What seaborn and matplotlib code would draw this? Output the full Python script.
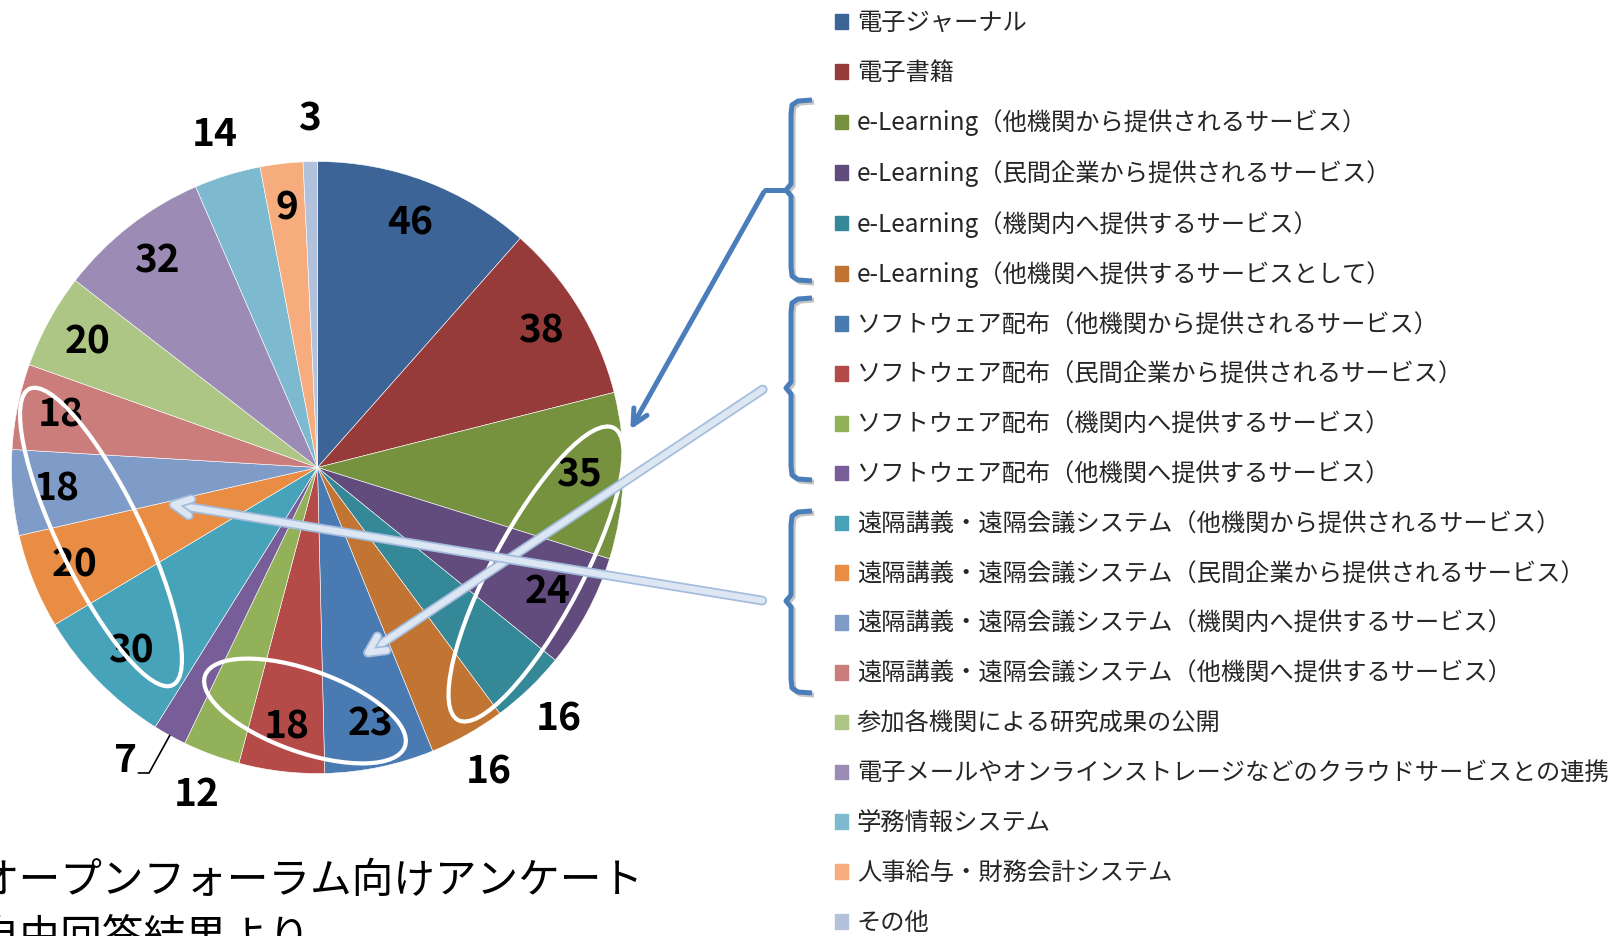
import numpy as np
import seaborn as sns
import matplotlib.pyplot as plt
from matplotlib.patches import Ellipse, Rectangle
import matplotlib.patheffects as pe

# データ: 各サービスの回答数（時計回り、上から）
labels = [
    "電子ジャーナル",
    "電子書籍",
    "e-Learning（他機関から提供されるサービス）",
    "e-Learning（民間企業から提供されるサービス）",
    "e-Learning（機関内へ提供するサービス）",
    "e-Learning（他機関へ提供するサービスとして）",
    "ソフトウェア配布（他機関から提供されるサービス）",
    "ソフトウェア配布（民間企業から提供されるサービス）",
    "ソフトウェア配布（機関内へ提供するサービス）",
    "ソフトウェア配布（他機関へ提供するサービス）",
    "遠隔講義・遠隔会議システム（他機関から提供されるサービス）",
    "遠隔講義・遠隔会議システム（民間企業から提供されるサービス）",
    "遠隔講義・遠隔会議システム（機関内へ提供するサービス）",
    "遠隔講義・遠隔会議システム（他機関へ提供するサービス）",
    "参加各機関による研究成果の公開",
    "電子メールやオンラインストレージなどのクラウドサービスとの連携",
    "学務情報システム",
    "人事給与・財務会計システム",
    "その他",
]
values = [46, 38, 35, 24, 16, 16, 23, 18, 12, 7, 30, 20, 18, 18, 20, 32, 14, 9, 3]
colors = [
    "#3C6496", "#963A3A", "#77923F", "#624C7E", "#358897", "#C27433",
    "#4A7AB2", "#B54B48", "#93B158", "#785E98", "#47A3BA", "#E88D43",
    "#7F9BC8", "#CB7D7B", "#AEC685", "#9C8BB4", "#7DBAD0", "#F6AC7C",
    "#B3C2DC",
]
# ラベルを円の外に出すスライス
outside = [4, 5, 8, 9, 16, 18]

footer = ["オープンフォーラム向けアンケート", "自由回答結果より"]

sns.set_theme(style="white")
plt.rcParams["font.family"] = ["Noto Sans CJK JP", "DejaVu Sans"]

W, H = 1611, 936
fig = plt.figure(figsize=(W / 100, H / 100), dpi=100)
fig.patch.set_facecolor("white")

# 円グラフ
cx, cy, r = 317.5, 467.5, 306
ax = fig.add_axes([(cx - r) / W, (H - cy - r) / H, 2 * r / W, 2 * r / H])
palette = sns.color_palette(colors)
wedges, _ = ax.pie(values, colors=palette, startangle=90, counterclock=False,
                   radius=1, wedgeprops=dict(edgecolor="white", linewidth=0.4))
ax.set_xlim(-1, 1)
ax.set_ylim(-1, 1)

total = sum(values)
cum = np.cumsum([0] + values[:-1])
for i, v in enumerate(values):
    mid = (cum[i] + v / 2) / total * 2 * np.pi
    d = np.array([np.sin(mid), np.cos(mid)])
    if i == 9:
        # 引き出し線付き
        p0, p1 = 1.0 * d, 1.14 * d
        p2 = p1 + np.array([-0.035, 0])
        ax.plot([p0[0], p1[0], p2[0]], [p0[1], p1[1], p2[1]], color="black",
                lw=1.2, clip_on=False)
        pos = p1 + np.array([-0.078, 0.042])
    elif i in outside:
        pos = 1.14 * d
    else:
        pos = 0.855 * d
    ax.text(pos[0], pos[1], str(v), ha="center", va="center", fontsize=28,
            fontweight="bold", color="black", clip_on=False)

# 凡例
handles = [Rectangle((0, 0), 1, 1, color=c) for c in palette]
fig.legend(handles, labels, loc="upper left", bbox_to_anchor=(835 / W, 1 - 10 / H),
           frameon=False, fontsize=17.5, handlelength=0.55, handleheight=0.55,
           handletextpad=0.35, labelspacing=0.98, borderpad=0, borderaxespad=0)

# 注釈レイヤー（ピクセル座標）
ax2 = fig.add_axes([0, 0, 1, 1])
ax2.set_xlim(0, W)
ax2.set_ylim(H, 0)
ax2.axis("off")
ax2.patch.set_alpha(0)

blue = "#4A7EBB"
braces = [(100, 281, 190), (298, 480, 388), (511, 693, 601)]
for y0, y1, ym in braces:
    xs = [812, 798, 792, 791, 791, 786, 791, 791, 792, 798, 812]
    ys = [y0, y0 + 1, y0 + 5, y0 + 14, ym - 6, ym, ym + 6, y1 - 14, y1 - 5, y1 - 1, y1]
    ax2.plot(xs, ys, color=blue, lw=3.6, solid_capstyle="butt",
             path_effects=[pe.SimpleLineShadow(offset=(1.5, -1.5), alpha=0.25), pe.Normal()])

# 青い矢印
ax2.plot([786, 765], [190, 190], color=blue, lw=3.6)
ax2.annotate("", xy=(629, 432), xytext=(765, 190),
             arrowprops=dict(arrowstyle="->,head_length=0.9,head_width=0.45",
                             lw=3.6, color=blue))

# 白っぽい矢印
light = dict(arrowstyle="->,head_length=1.0,head_width=0.5", lw=4.5, color="#DDE7F3",
             path_effects=[pe.Stroke(linewidth=7, foreground="#A3BCDD"), pe.Normal()])
ax2.annotate("", xy=(360, 658), xytext=(765, 388), arrowprops=light)
ax2.annotate("", xy=(164, 503), xytext=(765, 601), arrowprops=light)

# 白い楕円
for (ex, ey), ew, eh, ang in [((101, 537), 329, 84, 64.2),
                              ((536, 574), 331, 90, 118.1),
                              ((305, 711), 212, 82, 19.5)]:
    ax2.add_patch(Ellipse((ex, ey), ew, eh, angle=ang, fill=False,
                          edgecolor="white", lw=3))

# 下部テキスト（左端で切れている）
ax2.text(-23, 881, footer[0], fontsize=30, ha="left", va="center", color="black")
ax2.text(-23, 938, footer[1], fontsize=30, ha="left", va="center", color="black")

fig.savefig("out.png", dpi=100)
